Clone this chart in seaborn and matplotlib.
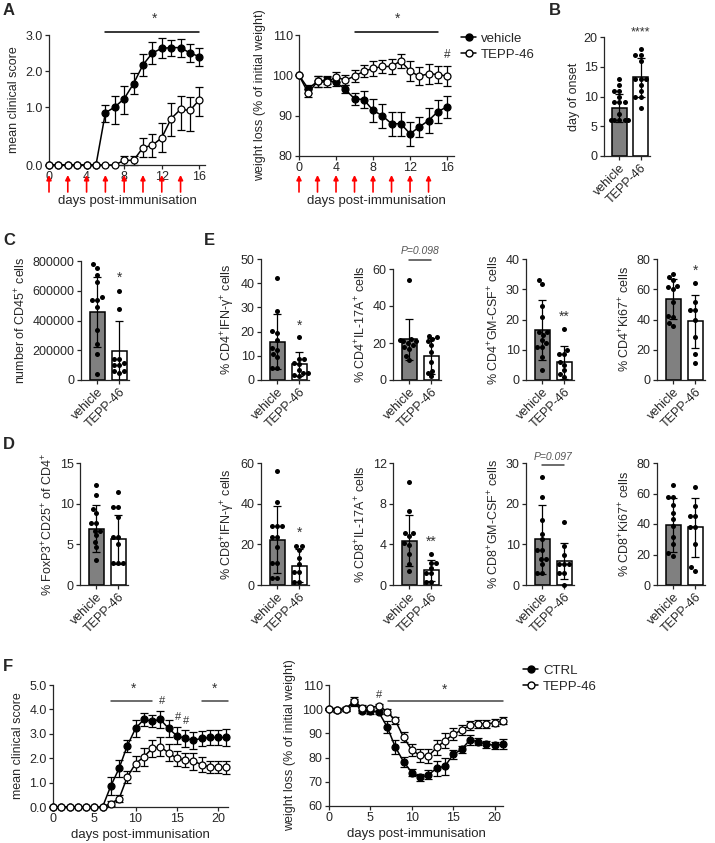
import numpy as np
import pandas as pd
import matplotlib
matplotlib.use("Agg")
import matplotlib.pyplot as plt
import matplotlib.transforms as mtransforms
from matplotlib.lines import Line2D
from matplotlib.ticker import FormatStrFormatter, NullLocator
import seaborn as sns

# ---------------- datos ----------------
grupos = ["vehicle", "TEPP-46"]

# A: dias 0-16
dias_a = [0, 1, 2, 3, 4, 5, 6, 7, 8, 9, 10, 11, 12, 13, 14, 15, 16]
score_veh = [0, 0, 0, 0, 0, 0, 0.9, 1.0, 1.23, 1.65, 2.17, 2.5, 2.63, 2.65, 2.65, 2.5, 2.4]
score_veh_sd = [0, 0, 0, 0, 0, 0, 0.15, 0.3, 0.35, 0.3, 0.3, 0.3, 0.28, 0.22, 0.25, 0.25, 0.25]
score_tepp = [0, 0, 0, 0, 0, 0, 0, 0, 0.08, 0.08, 0.3, 0.34, 0.47, 0.8, 0.96, 0.94, 1.2]
score_tepp_sd = [0, 0, 0, 0, 0, 0, 0, 0, 0.08, 0.08, 0.17, 0.2, 0.25, 0.3, 0.35, 0.35, 0.35]
peso_veh = [100, 96.7, 98.5, 98.8, 98.3, 96.5, 94.2, 94.0, 91.3, 90.0, 88.0, 88.0, 85.5, 87.2, 88.8, 91.0, 92.2]
peso_veh_sd = [0, 1.0, 1.3, 1.0, 1.0, 1.0, 1.5, 2.2, 2.8, 3.0, 3.0, 3.0, 3.0, 2.5, 3.0, 2.8, 2.8]
peso_tepp = [100, 95.6, 98.5, 98.3, 99.6, 98.8, 99.8, 101.0, 101.7, 102.2, 102.2, 103.6, 101.0, 99.8, 100.4, 100.2, 99.8]
peso_tepp_sd = [0, 1.0, 1.3, 1.3, 1.3, 1.3, 1.5, 1.5, 1.8, 1.5, 1.8, 1.8, 2.5, 2.2, 2.5, 2.2, 2.5]
dias_inyeccion = [0, 2, 4, 6, 8, 10, 12, 14]

# B
onset_veh = [13, 12, 11, 11, 10, 9, 9, 9, 7, 6, 6, 6, 6, 6]
onset_tepp = [18, 17, 17, 16, 13, 13, 13, 12, 11, 10, 10, 8]
onset_media = [8.1, 13.2]
onset_sd = [2.4, 3.2]

# C
cd45_veh = [778000, 756000, 707000, 660000, 555000, 538000, 538000, 489000, 333000, 244000, 173000, 40000]
cd45_tepp = [600000, 478000, 142000, 140000, 111000, 100000, 100000, 62000, 62000, 49000]
cd45_media = [460000, 195000]
cd45_sd = [235000, 200000]

# E (CD4)
ifng4_veh = [42.1, 28.6, 20.4, 19.6, 16.6, 13.1, 12.4, 10.8, 9.7, 4.8, 4.8]
ifng4_tepp = [17.7, 8.6, 8.6, 6.9, 6.5, 4.1, 2.8, 2.8, 2.1, 1.5]
ifng4_media = [15.9, 6.5]
ifng4_sd = [11.3, 5.0]

il17_4_veh = [54, 22, 21.5, 21, 21, 20, 19, 18, 17, 13, 11]
il17_4_tepp = [24, 23, 22, 21, 19, 15, 10, 5, 4, 2]
il17_4_media = [22.0, 13.0]
il17_4_sd = [11.0, 9.5]

gm4_veh = [33.1, 31.8, 24.5, 20.7, 16.0, 16.0, 14.9, 13.3, 12.2, 11.0, 11.0, 7.7, 3.3]
gm4_tepp = [16.8, 9.9, 8.6, 8.6, 6.1, 5.0, 3.3, 2.0, 1.1]
gm4_media = [16.6, 5.8]
gm4_sd = [10.0, 5.6]

ki67_4_veh = [70.4, 68.1, 66.4, 62.4, 61.5, 60.2, 51.3, 42.5, 41.6, 38.0, 35.8]
ki67_4_tepp = [64.2, 51.3, 46.5, 46.5, 39.8, 28.3, 17.3, 11.5]
ki67_4_media = [53.5, 38.8]
ki67_4_sd = [13.3, 17.5]

# D (Treg / CD8)
foxp3_veh = [12.3, 11.1, 9.4, 8.9, 7.6, 7.6, 6.7, 6.7, 6.1, 5.3, 4.7, 3.1]
foxp3_tepp = [11.4, 9.6, 9.6, 8.4, 5.9, 5.9, 5.1, 2.7, 2.7, 2.7]
foxp3_media = [6.9, 5.6]
foxp3_sd = [2.9, 3.0]

ifng8_veh = [55.9, 40.8, 29.0, 29.0, 29.0, 23.6, 23.6, 18.9, 10.7, 10.7, 3.4, 3.4]
ifng8_tepp = [19.3, 19.3, 17.2, 13.1, 10.3, 6.2, 6.2, 1.3, 1.3]
ifng8_media = [22.3, 9.5]
ifng8_sd = [16.4, 8.2]

il17_8_veh = [10.1, 7.27, 5.1, 5.1, 4.8, 4.1, 3.9, 3.06, 2.07, 1.38]
il17_8_tepp = [3.06, 2.17, 2.17, 1.68, 1.15, 1.15, 0.33, 0.33]
il17_8_media = [4.37, 1.45]
il17_8_sd = [2.5, 1.05]

gm8_veh = [26.5, 21.6, 15.9, 12.6, 11.3, 8.5, 8.5, 6.4, 6.4, 5.2, 2.9, 2.9]
gm8_tepp = [15.6, 9.7, 7.5, 5.2, 5.2, 5.2, 2.9, 2.9, 0.0]
gm8_media = [11.2, 5.9]
gm8_sd = [8.4, 4.5]

ki67_8_veh = [65.5, 57.8, 57.8, 52.3, 47.3, 43.5, 39.0, 31.4, 26.6, 20.9, 19.3]
ki67_8_tepp = [64.0, 51.6, 45.0, 45.0, 38.0, 38.0, 26.6, 11.6, 9.5]
ki67_8_media = [39.5, 37.8]
ki67_8_sd = [17.8, 19.3]

# F: dias 0-21
dias_f = [0, 1, 2, 3, 4, 5, 6, 7, 8, 9, 10, 11, 12, 13, 14, 15, 16, 17, 18, 19, 20, 21]
fscore_ctrl = [0, 0, 0, 0, 0, 0, 0, 0.86, 1.58, 2.51, 3.22, 3.59, 3.52, 3.59, 3.22, 2.92, 2.81, 2.74, 2.81, 2.85, 2.85, 2.85]
fscore_ctrl_sd = [0, 0, 0, 0, 0, 0, 0, 0.35, 0.35, 0.25, 0.35, 0.25, 0.25, 0.35, 0.35, 0.35, 0.35, 0.35, 0.3, 0.3, 0.3, 0.35]
fscore_tepp = [0, 0, 0, 0, 0, 0, 0, 0.14, 0.34, 1.23, 1.78, 2.05, 2.40, 2.47, 2.22, 1.99, 1.92, 1.88, 1.74, 1.64, 1.64, 1.62]
fscore_tepp_sd = [0, 0, 0, 0, 0, 0, 0, 0.1, 0.15, 0.25, 0.3, 0.35, 0.35, 0.4, 0.35, 0.3, 0.3, 0.35, 0.3, 0.25, 0.25, 0.25]
fpeso_ctrl = [100, 99.7, 100, 102.8, 99.4, 99.2, 98.8, 92.8, 84.4, 78.3, 73.8, 71.8, 72.9, 75.6, 76.5, 81.3, 83.4, 87.3, 86.6, 85.5, 85.1, 85.5]
fpeso_ctrl_sd = [0.5, 1.0, 0.8, 1.5, 1.0, 1.0, 0.8, 2.5, 2.8, 2.0, 1.5, 1.5, 1.8, 3.0, 3.5, 2.0, 1.5, 2.0, 1.5, 1.5, 1.5, 2.0]
fpeso_tepp = [100, 99.7, 100, 103.4, 100.6, 100.6, 101.3, 99.0, 95.4, 88.4, 83.1, 80.9, 80.6, 84.2, 87.0, 89.6, 91.4, 93.3, 93.9, 93.9, 94.4, 95.3]
fpeso_tepp_sd = [0.5, 0.8, 0.8, 1.5, 1.0, 0.8, 0.8, 1.0, 1.5, 2.0, 2.5, 2.8, 3.0, 3.0, 3.0, 2.5, 2.0, 2.0, 1.5, 1.5, 1.5, 1.5]

# ---------------- estilo ----------------
sns.set_style("ticks")
plt.rcParams["font.family"] = ["Liberation Sans", "DejaVu Sans"]
plt.rcParams["mathtext.fontset"] = "custom"
plt.rcParams["mathtext.rm"] = "Liberation Sans"
plt.rcParams["mathtext.it"] = "Liberation Sans:italic"

W, H = 715, 843
fig = plt.figure(figsize=(W / 100, H / 100), dpi=100)
GRIS = "#808080"
TXT = 9


def caja(x0, y0, x1, y1):
    # ejes a partir de pixeles (izq, arriba, der, abajo)
    return fig.add_axes([x0 / W, 1 - y1 / H, (x1 - x0) / W, (y1 - y0) / H])


def estilo(ax):
    sns.despine(ax=ax)
    for s in ["left", "bottom"]:
        ax.spines[s].set_linewidth(0.9)
    ax.tick_params(direction="out", length=3, width=0.9, labelsize=TXT, pad=1.5)


def curva(ax, dias, media, sd, lleno):
    d = np.array(dias)
    m = np.array(media)
    e = np.array(sd)
    ok = e > 0
    ax.errorbar(d[ok], m[ok], yerr=e[ok], fmt="none", ecolor="black", elinewidth=0.9,
                capsize=2.6, capthick=0.9, zorder=2, clip_on=False)
    sns.lineplot(x=dias, y=media, ax=ax, color="black", lw=1.1, marker="o", markersize=5,
                 markerfacecolor="black" if lleno else "white", markeredgecolor="black",
                 markeredgewidth=0.9, clip_on=False, zorder=3, legend=False)


def flechas(ax):
    tr = mtransforms.blended_transform_factory(ax.transData, fig.transFigure)
    for d in dias_inyeccion:
        ax.annotate("", xy=(d, 1 - 175 / H), xytext=(d, 1 - 192 / H), xycoords=tr, textcoords=tr,
                    arrowprops=dict(arrowstyle="-|>", color="red", lw=1.2, mutation_scale=7,
                                    shrinkA=0, shrinkB=0), annotation_clip=False)


def barras(ax, veh, tepp, media, sd, ymax, paso, etiqueta):
    df = pd.DataFrame({"grupo": ["vehicle"] * len(veh) + ["TEPP-46"] * len(tepp),
                       "valor": veh + tepp})
    sns.barplot(x=grupos, y=media, hue=grupos, palette=[GRIS, "white"], edgecolor="black",
                linewidth=1.1, width=0.68, legend=False, ax=ax, zorder=1)
    ax.errorbar([0, 1], media, yerr=sd, fmt="none", ecolor="black", elinewidth=0.9,
                capsize=3, capthick=0.9, zorder=3)
    sns.swarmplot(data=df, x="grupo", y="valor", order=grupos, color="black", size=3.6,
                  ax=ax, zorder=4, clip_on=False, warn_thresh=1)
    ax.set_xlim(-0.73, 1.45)
    ax.set_ylim(0, ymax)
    ax.set_yticks(np.arange(0, ymax + paso / 2, paso))
    ax.set_xticks([0, 1])
    ax.set_xticklabels(grupos, rotation=45, ha="right", rotation_mode="anchor", fontsize=TXT)
    ax.set_xlabel("")
    ax.set_ylabel(etiqueta, fontsize=TXT, labelpad=3)
    estilo(ax)


def marca(ax, x, y, s, color="#333333", size=10, **kw):
    ax.text(x, y, s, ha="center", va="center", fontsize=size, color=color, clip_on=False, **kw)


def pval(ax, y_linea, y_txt, s):
    ax.plot([0, 1], [y_linea, y_linea], color="#444444", lw=1.1, clip_on=False)
    ax.text(0.5, y_txt, s, ha="center", va="center", fontsize=7.5, style="italic",
            color="#555555", clip_on=False)


def letra(x, y, s):
    fig.text(x / W, 1 - y / H, s, fontsize=12, fontweight="bold", va="top")


# ---------------- A: score clinico (eje con tramo 0-1 ampliado) ----------------
G = 58 / 36


def fwd(v):
    v = np.asarray(v, dtype=float)
    return np.where(v < 1, v * G, G + (v - 1))


def inv(u):
    u = np.asarray(u, dtype=float)
    return np.where(u < G, u / G, (u - G) + 1)


ax = caja(49, 35, 205, 165)
ax.set_yscale("function", functions=(fwd, inv))
curva(ax, dias_a, score_veh, score_veh_sd, True)
curva(ax, dias_a, score_tepp, score_tepp_sd, False)
ax.set_xlim(0, 16.6)
ax.set_ylim(0, 3)
ax.set_yticks([0, 1, 2, 3])
ax.yaxis.set_major_formatter(FormatStrFormatter("%.1f"))
ax.yaxis.set_minor_locator(NullLocator())
ax.set_xticks([0, 4, 8, 12, 16])
ax.set_ylabel("mean clinical score", fontsize=TXT)
ax.set_xlabel("days post-immunisation", fontsize=9.5)
ax.xaxis.set_label_coords(0.5, (165 - 195) / 130)
estilo(ax)
flechas(ax)
ax.plot([6, 16], [3.08, 3.08], color="black", lw=1.1, clip_on=False)
marca(ax, 11.2, 3.45, "*")
letra(3, 3, "A")

# ---------------- A: peso ----------------
ax = caja(299, 35, 454, 156)
curva(ax, dias_a, peso_veh, peso_veh_sd, True)
curva(ax, dias_a, peso_tepp, peso_tepp_sd, False)
ax.set_xlim(0, 16.75)
ax.set_ylim(80, 110)
ax.set_yticks([80, 90, 100, 110])
ax.set_xticks([0, 4, 8, 12, 16])
ax.set_ylabel("weight loss (% of initial weight)", fontsize=TXT)
ax.set_xlabel("days post-immunisation", fontsize=9.5)
ax.xaxis.set_label_coords(0.5, (156 - 195) / 121)
estilo(ax)
flechas(ax)
ax.plot([6, 15], [110.7, 110.7], color="black", lw=1.1, clip_on=False)
marca(ax, 10.6, 114, "*")
marca(ax, 16, 105, "#", size=8.5)
manijas = [Line2D([], [], color="black", marker="o", ms=5, mfc="black", mec="black", lw=1.1),
           Line2D([], [], color="black", marker="o", ms=5, mfc="white", mec="black", lw=1.1)]
fig.legend(manijas, grupos, loc="upper left", bbox_to_anchor=(456 / W, 1 - 27 / H), frameon=False,
           handlelength=1.1, handletextpad=0.4, labelspacing=0.3, fontsize=9.5, borderaxespad=0)

# ---------------- B ----------------
ax = caja(604, 37, 650, 156)
barras(ax, onset_veh, onset_tepp, onset_media, onset_sd, 20, 5, "day of onset")
marca(ax, 1, 20.8, "****", size=9)
letra(549, 3, "B")

# ---------------- C ----------------
ax = caja(81, 261, 129, 380)
barras(ax, cd45_veh, cd45_tepp, cd45_media, cd45_sd, 800000, 200000,
       "number of CD45$^{+}$ cells")
marca(ax, 1, 690000, "*")
letra(3, 233, "C")

# ---------------- E ----------------
ax = caja(261, 259, 309, 380)
barras(ax, ifng4_veh, ifng4_tepp, ifng4_media, ifng4_sd, 50, 10,
       "% CD4$^{+}$IFN-γ$^{+}$ cells")
marca(ax, 1, 22.3, "*")
letra(204, 233, "E")

ax = caja(393, 269, 441, 380)
barras(ax, il17_4_veh, il17_4_tepp, il17_4_media, il17_4_sd, 60, 20,
       "% CD4$^{+}$IL-17A$^{+}$ cells")
pval(ax, 64.9, 69.8, "P=0.098")

ax = caja(526, 259, 574, 380)
barras(ax, gm4_veh, gm4_tepp, gm4_media, gm4_sd, 40, 10,
       "% CD4$^{+}$GM-CSF$^{+}$ cells")
marca(ax, 1, 20.8, "**")

ax = caja(657, 259, 705, 380)
barras(ax, ki67_4_veh, ki67_4_tepp, ki67_4_media, ki67_4_sd, 80, 20,
       "% CD4$^{+}$Ki67$^{+}$ cells")
marca(ax, 1, 72.2, "*")

# ---------------- D ----------------
ax = caja(80, 463, 128, 585)
barras(ax, foxp3_veh, foxp3_tepp, foxp3_media, foxp3_sd, 15, 5,
       "% FoxP3$^{+}$CD25$^{+}$ of CD4$^{+}$")
letra(3, 437, "D")

ax = caja(261, 463, 309, 585)
barras(ax, ifng8_veh, ifng8_tepp, ifng8_media, ifng8_sd, 60, 20,
       "% CD8$^{+}$IFN-γ$^{+}$ cells")
marca(ax, 1, 25.6, "*")

ax = caja(393, 463, 441, 585)
barras(ax, il17_8_veh, il17_8_tepp, il17_8_media, il17_8_sd, 12, 4,
       "% CD8$^{+}$IL-17A$^{+}$ cells")
marca(ax, 1, 4.3, "**")

ax = caja(526, 463, 574, 585)
barras(ax, gm8_veh, gm8_tepp, gm8_media, gm8_sd, 30, 10,
       "% CD8$^{+}$GM-CSF$^{+}$ cells")
pval(ax, 29.4, 31.5, "P=0.097")

ax = caja(657, 463, 705, 585)
barras(ax, ki67_8_veh, ki67_8_tepp, ki67_8_media, ki67_8_sd, 80, 20,
       "% CD8$^{+}$Ki67$^{+}$ cells")

# ---------------- F: score ----------------
ax = caja(53, 685, 228, 807)
curva(ax, dias_f, fscore_ctrl, fscore_ctrl_sd, True)
curva(ax, dias_f, fscore_tepp, fscore_tepp_sd, False)
ax.set_xlim(0, 21.2)
ax.set_ylim(0, 5)
ax.set_yticks([0, 1, 2, 3, 4, 5])
ax.yaxis.set_major_formatter(FormatStrFormatter("%.1f"))
ax.set_xticks([0, 5, 10, 15, 20])
ax.set_ylabel("mean clinical score", fontsize=TXT)
ax.set_xlabel("days post-immunisation", fontsize=9.5, labelpad=3)
estilo(ax)
ax.plot([7, 12], [4.36, 4.36], color="#444444", lw=1.1)
marca(ax, 9.7, 4.84, "*")
ax.plot([18, 21.2], [4.36, 4.36], color="#444444", lw=1.1, clip_on=False)
marca(ax, 19.6, 4.84, "*")
marca(ax, 13.2, 4.36, "#", size=8)
marca(ax, 15.2, 3.7, "#", size=8)
marca(ax, 16.1, 3.54, "#", size=8)
letra(3, 659, "F")

# ---------------- F: peso ----------------
ax = caja(329, 685, 503, 806)
curva(ax, dias_f, fpeso_ctrl, fpeso_ctrl_sd, True)
curva(ax, dias_f, fpeso_tepp, fpeso_tepp_sd, False)
ax.set_xlim(0, 21)
ax.set_ylim(60, 110)
ax.set_yticks([60, 70, 80, 90, 100, 110])
ax.set_xticks([0, 5, 10, 15, 20])
ax.set_ylabel("weight loss (% of initial weight)", fontsize=TXT)
ax.set_xlabel("days post-immunisation", fontsize=9.5, labelpad=3)
estilo(ax)
ax.plot([7.1, 21], [103.4, 103.4], color="#444444", lw=1.1, clip_on=False)
marca(ax, 14, 108.2, "*")
marca(ax, 6, 105.9, "#", size=8)
fig.legend(manijas, ["CTRL", "TEPP-46"], loc="upper left", bbox_to_anchor=(518 / W, 1 - 659 / H),
           frameon=False, handlelength=1.1, handletextpad=0.4, labelspacing=0.3, fontsize=9.5,
           borderaxespad=0)

fig.savefig("out.png", dpi=100)
